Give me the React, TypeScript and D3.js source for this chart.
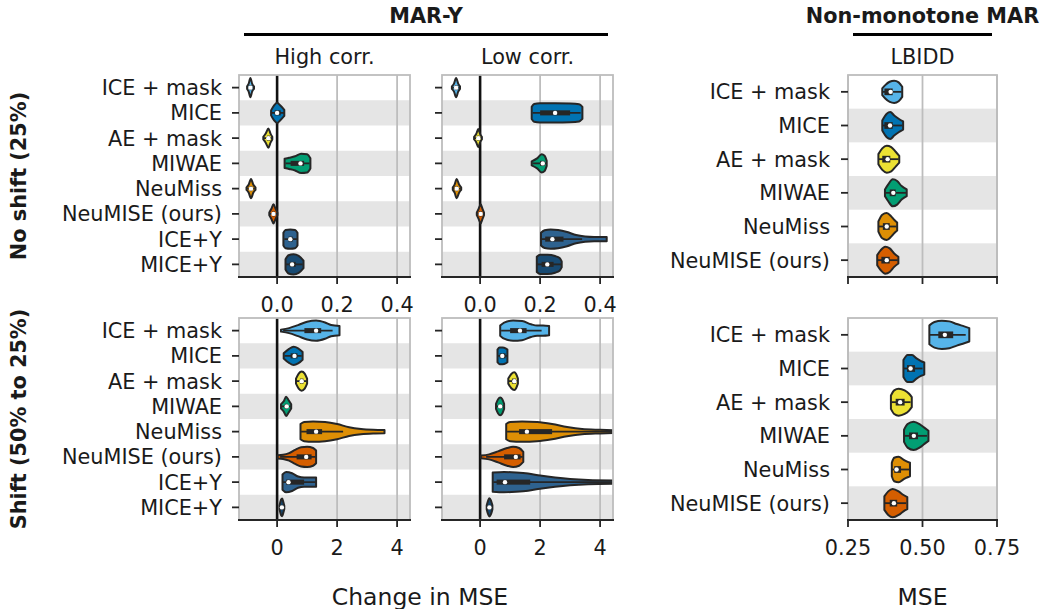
import React from "react";
import * as d3 from "d3";

const methods = ["ICE + mask", "MICE", "AE + mask", "MIWAE", "NeuMiss", "NeuMISE (ours)", "ICE+Y", "MICE+Y"];
const lbiddMethods = methods.slice(0, 6);
const colors = ["#56B4E9", "#0173B2", "#ECE133", "#029E73", "#DE8F05", "#D55E00", "#2E628F", "#184A72"];

const changeTicks = [0, 0.2, 0.4];
const shiftTicks = [0, 2, 4];
const mseTicks = [0.25, 0.5, 0.75];

// box = [whisker lo, q1, median, q3, whisker hi]; shape = [value, half width as share of the row]
type Violin = { box: number[]; shape: number[][] };

const highCorrNoShift: Violin[] = [
  { box: [-0.1, -0.093, -0.089, -0.085, -0.077], shape: [[-0.1, 0.05], [-0.095, 0.15], [-0.089, 0.38], [-0.083, 0.15], [-0.077, 0.05]] },
  { box: [-0.018, -0.008, 0.0, 0.012, 0.024], shape: [[-0.02, 0.1], [-0.01, 0.3], [0.0, 0.4], [0.01, 0.3], [0.024, 0.12]] },
  { box: [-0.044, -0.034, -0.029, -0.024, -0.016], shape: [[-0.046, 0.05], [-0.038, 0.18], [-0.029, 0.38], [-0.022, 0.18], [-0.016, 0.05]] },
  { box: [0.028, 0.045, 0.078, 0.09, 0.108], shape: [[0.025, 0.18], [0.04, 0.22], [0.06, 0.28], [0.08, 0.38], [0.1, 0.36], [0.111, 0.2]] },
  { box: [-0.1, -0.091, -0.087, -0.083, -0.074], shape: [[-0.102, 0.05], [-0.095, 0.15], [-0.087, 0.38], [-0.079, 0.15], [-0.072, 0.05]] },
  { box: [-0.024, -0.016, -0.012, -0.008, 0.0], shape: [[-0.026, 0.05], [-0.019, 0.2], [-0.012, 0.38], [-0.005, 0.2], [0.001, 0.05]] },
  { box: [0.024, 0.038, 0.044, 0.052, 0.066], shape: [[0.021, 0.25], [0.028, 0.36], [0.044, 0.38], [0.06, 0.36], [0.068, 0.25]] },
  { box: [0.03, 0.042, 0.05, 0.062, 0.085], shape: [[0.028, 0.2], [0.038, 0.36], [0.055, 0.4], [0.072, 0.34], [0.088, 0.15]] },
];

const lowCorrNoShift: Violin[] = [
  { box: [-0.092, -0.084, -0.08, -0.075, -0.068], shape: [[-0.094, 0.05], [-0.087, 0.16], [-0.08, 0.38], [-0.073, 0.16], [-0.067, 0.05]] },
  { box: [0.175, 0.2, 0.25, 0.3, 0.335], shape: [[0.172, 0.24], [0.18, 0.35], [0.2, 0.38], [0.25, 0.38], [0.3, 0.37], [0.33, 0.34], [0.341, 0.24]] },
  { box: [-0.018, -0.01, -0.006, -0.002, 0.004], shape: [[-0.02, 0.05], [-0.013, 0.16], [-0.006, 0.36], [0.0, 0.16], [0.006, 0.05]] },
  { box: [0.175, 0.2, 0.209, 0.215, 0.22], shape: [[0.172, 0.08], [0.19, 0.2], [0.205, 0.36], [0.215, 0.3], [0.222, 0.1]] },
  { box: [-0.089, -0.082, -0.078, -0.074, -0.065], shape: [[-0.091, 0.05], [-0.085, 0.16], [-0.078, 0.38], [-0.07, 0.16], [-0.063, 0.05]] },
  { box: [-0.009, -0.003, 0.002, 0.006, 0.011], shape: [[-0.011, 0.05], [-0.005, 0.2], [0.002, 0.38], [0.008, 0.2], [0.013, 0.05]] },
  { box: [0.205, 0.217, 0.241, 0.278, 0.34], shape: [[0.203, 0.25], [0.215, 0.35], [0.235, 0.38], [0.26, 0.36], [0.29, 0.28], [0.32, 0.16], [0.35, 0.1], [0.38, 0.08], [0.422, 0.08]] },
  { box: [0.19, 0.205, 0.224, 0.245, 0.27], shape: [[0.189, 0.3], [0.2, 0.38], [0.225, 0.38], [0.25, 0.33], [0.265, 0.25], [0.272, 0.12]] },
];

const lbiddNoShift: Violin[] = [
  { box: [0.366, 0.372, 0.393, 0.4, 0.43], shape: [[0.365, 0.1], [0.375, 0.2], [0.39, 0.3], [0.405, 0.33], [0.42, 0.28], [0.432, 0.15]] },
  { box: [0.366, 0.372, 0.391, 0.4, 0.432], shape: [[0.365, 0.15], [0.38, 0.35], [0.392, 0.4], [0.405, 0.3], [0.42, 0.2], [0.435, 0.12]] },
  { box: [0.354, 0.365, 0.383, 0.392, 0.42], shape: [[0.352, 0.15], [0.365, 0.32], [0.38, 0.4], [0.395, 0.36], [0.41, 0.22], [0.422, 0.1]] },
  { box: [0.376, 0.39, 0.402, 0.41, 0.445], shape: [[0.374, 0.1], [0.385, 0.25], [0.4, 0.4], [0.415, 0.35], [0.43, 0.2], [0.447, 0.1]] },
  { box: [0.354, 0.367, 0.38, 0.39, 0.413], shape: [[0.352, 0.15], [0.365, 0.35], [0.38, 0.4], [0.395, 0.3], [0.405, 0.2], [0.415, 0.12]] },
  { box: [0.35, 0.362, 0.38, 0.39, 0.417], shape: [[0.348, 0.15], [0.36, 0.3], [0.375, 0.4], [0.39, 0.35], [0.405, 0.2], [0.419, 0.1]] },
];

const highCorrShift: Violin[] = [
  { box: [0.2, 0.91, 1.3, 1.47, 1.85], shape: [[0.13, 0.04], [0.4, 0.1], [0.7, 0.22], [1.0, 0.35], [1.3, 0.4], [1.6, 0.32], [1.8, 0.22], [2.08, 0.18]] },
  { box: [0.25, 0.45, 0.58, 0.68, 0.82], shape: [[0.22, 0.1], [0.4, 0.28], [0.55, 0.36], [0.7, 0.3], [0.85, 0.15]] },
  { box: [0.66, 0.76, 0.82, 0.88, 0.98], shape: [[0.63, 0.1], [0.72, 0.3], [0.82, 0.38], [0.92, 0.3], [1.0, 0.1]] },
  { box: [0.15, 0.26, 0.32, 0.36, 0.45], shape: [[0.13, 0.08], [0.22, 0.2], [0.3, 0.38], [0.38, 0.25], [0.47, 0.08]] },
  { box: [0.8, 0.98, 1.3, 1.5, 2.2], shape: [[0.78, 0.3], [0.9, 0.38], [1.2, 0.4], [1.6, 0.38], [2.0, 0.3], [2.4, 0.17], [2.8, 0.1], [3.2, 0.07], [3.58, 0.06]] },
  { box: [0.1, 0.65, 0.97, 1.15, 1.28], shape: [[0.02, 0.06], [0.2, 0.08], [0.4, 0.15], [0.6, 0.28], [0.8, 0.38], [1.0, 0.4], [1.2, 0.35], [1.3, 0.25]] },
  { box: [0.18, 0.3, 0.38, 0.9, 1.3], shape: [[0.18, 0.3], [0.3, 0.4], [0.5, 0.35], [0.7, 0.22], [0.9, 0.18], [1.1, 0.18], [1.3, 0.18]] },
  { box: [0.09, 0.13, 0.16, 0.19, 0.23], shape: [[0.08, 0.08], [0.13, 0.3], [0.17, 0.35], [0.21, 0.2], [0.24, 0.06]] },
];

const lowCorrShift: Violin[] = [
  { box: [0.7, 1.0, 1.33, 1.55, 2.05], shape: [[0.67, 0.2], [0.8, 0.32], [1.1, 0.4], [1.4, 0.38], [1.7, 0.25], [1.9, 0.2], [2.1, 0.2], [2.3, 0.18]] },
  { box: [0.6, 0.65, 0.74, 0.85, 0.9], shape: [[0.58, 0.25], [0.65, 0.33], [0.75, 0.33], [0.85, 0.3], [0.91, 0.25]] },
  { box: [0.96, 1.06, 1.14, 1.2, 1.24], shape: [[0.94, 0.1], [1.04, 0.28], [1.14, 0.35], [1.2, 0.28], [1.26, 0.1]] },
  { box: [0.55, 0.62, 0.67, 0.72, 0.78], shape: [[0.53, 0.1], [0.6, 0.28], [0.67, 0.35], [0.74, 0.28], [0.8, 0.1]] },
  { box: [0.9, 1.3, 1.56, 2.4, 4.6], shape: [[0.87, 0.3], [1.0, 0.38], [1.4, 0.4], [1.9, 0.38], [2.4, 0.3], [2.9, 0.18], [3.4, 0.1], [4.0, 0.07], [4.6, 0.05]] },
  { box: [0.2, 0.8, 1.19, 1.35, 1.42], shape: [[0.03, 0.05], [0.3, 0.1], [0.6, 0.22], [0.9, 0.35], [1.1, 0.4], [1.3, 0.35], [1.44, 0.2]] },
  { box: [0.44, 0.55, 0.83, 1.67, 4.6], shape: [[0.42, 0.38], [0.8, 0.4], [1.2, 0.38], [1.6, 0.34], [2.0, 0.26], [2.5, 0.18], [3.0, 0.12], [3.6, 0.08], [4.6, 0.06]] },
  { box: [0.24, 0.28, 0.31, 0.35, 0.39], shape: [[0.22, 0.08], [0.27, 0.28], [0.31, 0.36], [0.36, 0.28], [0.41, 0.08]] },
];

const lbiddShift: Violin[] = [
  { box: [0.525, 0.553, 0.575, 0.603, 0.645], shape: [[0.523, 0.28], [0.54, 0.38], [0.565, 0.42], [0.59, 0.4], [0.615, 0.32], [0.64, 0.25], [0.657, 0.2]] },
  { box: [0.438, 0.448, 0.46, 0.475, 0.5], shape: [[0.436, 0.25], [0.45, 0.4], [0.465, 0.4], [0.48, 0.3], [0.495, 0.22], [0.506, 0.18]] },
  { box: [0.396, 0.41, 0.425, 0.44, 0.46], shape: [[0.394, 0.2], [0.405, 0.35], [0.42, 0.4], [0.44, 0.35], [0.455, 0.25], [0.464, 0.15]] },
  { box: [0.44, 0.455, 0.471, 0.485, 0.515], shape: [[0.438, 0.18], [0.45, 0.35], [0.47, 0.42], [0.49, 0.35], [0.505, 0.25], [0.52, 0.15]] },
  { box: [0.398, 0.405, 0.413, 0.428, 0.455], shape: [[0.397, 0.2], [0.405, 0.35], [0.42, 0.38], [0.435, 0.3], [0.445, 0.25], [0.458, 0.2]] },
  { box: [0.374, 0.39, 0.404, 0.415, 0.445], shape: [[0.372, 0.2], [0.385, 0.35], [0.4, 0.42], [0.42, 0.35], [0.435, 0.25], [0.449, 0.18]] },
];

const FONT = "DejaVu Sans, sans-serif";
const FS = 20.8;
const INK = "#1a1a1a";
const EDGE = "#262626";
const GRID = "#bdbdbd";

type PanelProps = {
  id: string;
  left: number;
  top: number;
  width: number;
  height: number;
  domain: [number, number];
  ticks: number[];
  fmt: (v: number) => string;
  showTickLabels: boolean;
  zero: boolean;
  cats: string[];
  data: Violin[];
  labelX?: number;
};

const Panel = (p: PanelProps) => {
  const x = d3.scaleLinear().domain(p.domain).range([p.left, p.left + p.width]);
  const y = d3.scaleBand<string>().domain(p.cats).range([p.top, p.top + p.height]);
  const bw = y.bandwidth();
  const bottom = p.top + p.height;
  const right = p.left + p.width;

  return (
    <g>
      <defs>
        <clipPath id={p.id}>
          <rect x={p.left} y={p.top} width={p.width} height={p.height} />
        </clipPath>
      </defs>
      {p.cats.map((c, i) =>
        i % 2 === 1 ? <rect key={c} x={p.left} y={y(c)} width={p.width} height={bw} fill="#e5e5e5" /> : null
      )}
      {p.ticks.map((t) => (
        <line key={t} x1={x(t)} x2={x(t)} y1={p.top} y2={bottom} stroke={GRID} strokeWidth={1.8} />
      ))}
      {p.zero && <line x1={x(0)} x2={x(0)} y1={p.top} y2={bottom} stroke="#111" strokeWidth={2.6} />}
      <g clipPath={`url(#${p.id})`}>
        {p.data.map((v, i) => {
          const yc = (y(p.cats[i]) as number) + bw / 2;
          const area = d3
            .area<number[]>()
            .x((d) => x(d[0]))
            .y0((d) => yc - d[1] * bw)
            .y1((d) => yc + d[1] * bw)
            .curve(d3.curveMonotoneX);
          const [lo, q1, med, q3, hi] = v.box;
          const bh = Math.max(5, bw * 0.2);
          return (
            <g key={i}>
              <path d={area(v.shape) || ""} fill={colors[i]} stroke={EDGE} strokeWidth={2} strokeLinejoin="round" />
              <line x1={x(lo)} x2={x(hi)} y1={yc} y2={yc} stroke={EDGE} strokeWidth={1.8} />
              <rect x={x(q1)} y={yc - bh / 2} width={Math.max(2, x(q3) - x(q1))} height={bh} fill={EDGE} />
              <circle cx={x(med)} cy={yc} r={2.2} fill="white" />
            </g>
          );
        })}
      </g>
      <rect x={p.left} y={p.top} width={p.width} height={p.height} fill="none" stroke={GRID} strokeWidth={1.8} />
      <line x1={p.left - 1} x2={right + 1} y1={bottom} y2={bottom} stroke={EDGE} strokeWidth={1.8} />
      {p.cats.map((c) => {
        const yc = (y(c) as number) + bw / 2;
        return (
          <g key={c}>
            <line x1={p.left - 7} x2={p.left} y1={yc} y2={yc} stroke={EDGE} strokeWidth={1.8} />
            {p.labelX !== undefined && (
              <text x={p.labelX} y={yc} dy="0.36em" textAnchor="end" fontSize={FS} fill={INK}>
                {c}
              </text>
            )}
          </g>
        );
      })}
      {p.ticks.map((t) => (
        <g key={t}>
          <line x1={x(t)} x2={x(t)} y1={bottom} y2={bottom + 7} stroke={EDGE} strokeWidth={1.8} />
          {p.showTickLabels && (
            <text x={x(t)} y={bottom + 35} textAnchor="middle" fontSize={FS} fill={INK}>
              {p.fmt(t)}
            </text>
          )}
        </g>
      ))}
    </g>
  );
};

const App = () => {
  const f1 = d3.format(".1f");
  const f0 = d3.format("d");
  const f2 = d3.format(".2f");
  const topY = 75;
  const botY = 318;
  const h = 202;
  const colA = 239;
  const colB = 442;
  const colC = 848;
  const wAB = 171;
  const wC = 149;
  const changeDom: [number, number] = [-0.127, 0.443];
  const shiftDom: [number, number] = [-1.27, 4.43];
  const mseDom: [number, number] = [0.25, 0.75];

  return (
    <svg width={1047} height={609} style={{ display: "block", position: "absolute", left: 0, top: 0 }} fontFamily={FONT}>
      <rect width={1047} height={609} fill="white" />
      <text x={426} y={23} textAnchor="middle" fontSize={FS} fontWeight="bold" fill={INK}>MAR-Y</text>
      <line x1={244} x2={608} y1={34.5} y2={34.5} stroke="#000" strokeWidth={3} />
      <text x={922.5} y={23} textAnchor="middle" fontSize={FS} fontWeight="bold" fill={INK}>Non-monotone MAR</text>
      <line x1={853} x2={992} y1={34.5} y2={34.5} stroke="#000" strokeWidth={3} />
      <text x={colA + wAB / 2} y={64} textAnchor="middle" fontSize={FS} fill={INK}>High corr.</text>
      <text x={colB + wAB / 2} y={64} textAnchor="middle" fontSize={FS} fill={INK}>Low corr.</text>
      <text x={colC + wC / 2} y={64} textAnchor="middle" fontSize={FS} fill={INK}>LBIDD</text>

      <text transform={`translate(26,${topY + h / 2}) rotate(-90)`} textAnchor="middle" fontSize={FS} fontWeight="bold" fill={INK}>
        No shift (25%)
      </text>
      <text transform={`translate(26,${botY + h / 2}) rotate(-90)`} textAnchor="middle" fontSize={FS} fontWeight="bold" fill={INK}>
        Shift (50% to 25%)
      </text>

      <Panel id="pa" left={colA} top={topY} width={wAB} height={h} domain={changeDom} ticks={changeTicks} fmt={f1} showTickLabels zero cats={methods} data={highCorrNoShift} labelX={222} />
      <Panel id="pb" left={colB} top={topY} width={wAB} height={h} domain={changeDom} ticks={changeTicks} fmt={f1} showTickLabels zero cats={methods} data={lowCorrNoShift} />
      <Panel id="pc" left={colC} top={topY} width={wC} height={h} domain={mseDom} ticks={mseTicks} fmt={f2} showTickLabels={false} zero={false} cats={lbiddMethods} data={lbiddNoShift} labelX={830} />
      <Panel id="pd" left={colA} top={botY} width={wAB} height={h} domain={shiftDom} ticks={shiftTicks} fmt={f0} showTickLabels zero cats={methods} data={highCorrShift} labelX={222} />
      <Panel id="pe" left={colB} top={botY} width={wAB} height={h} domain={shiftDom} ticks={shiftTicks} fmt={f0} showTickLabels zero cats={methods} data={lowCorrShift} />
      <Panel id="pf" left={colC} top={botY} width={wC} height={h} domain={mseDom} ticks={mseTicks} fmt={f2} showTickLabels zero={false} cats={lbiddMethods} data={lbiddShift} labelX={830} />

      <text x={420} y={605} textAnchor="middle" fontSize={23.5} fill={INK}>Change in MSE</text>
      <text x={922.5} y={605} textAnchor="middle" fontSize={23.5} fill={INK}>MSE</text>
    </svg>
  );
};

export default App;
